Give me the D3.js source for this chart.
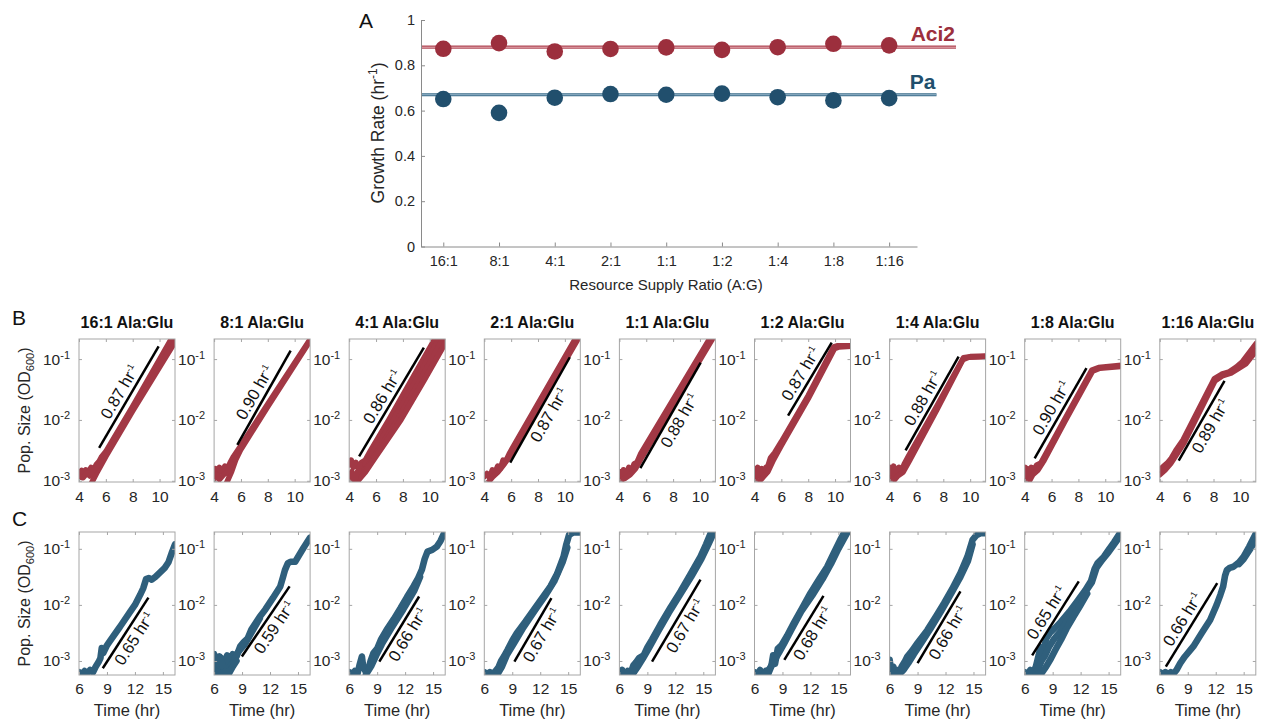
<!DOCTYPE html>
<html>
<head>
<meta charset="utf-8">
<script src="https://cdn.jsdelivr.net/npm/d3@7"></script>
<style>
  body { margin: 0; background: #fff; }
  svg { font-family: "Liberation Sans", Arial, sans-serif; }
</style>
</head>
<body>
<div id="wrap"></div>
<script>
// ---- data ----
const ratios = ["16:1", "8:1", "4:1", "2:1", "1:1", "1:2", "1:4", "1:8", "1:16"]
const aci2Rates = [0.873, 0.898, 0.861, 0.872, 0.879, 0.868, 0.880, 0.895, 0.888]
const paRates = [0.651, 0.590, 0.657, 0.673, 0.670, 0.675, 0.659, 0.645, 0.655]
const aci2Mean = 0.88
const paMean = 0.67
const aci2LineEnd = 10.2
const paLineEnd = 9.85
const yTicksA = [0, 0.2, 0.4, 0.6, 0.8, 1]

const xTicksB = [4, 6, 8, 10]
const xTicksC = [6, 9, 12, 15]
const yTicksLog = [1e-3, 1e-2, 1e-1]

// growth curves, [time (hr), log10 OD600], a few replicate strands per panel
const aci2Curves = [
  [
    [[4.0,-2.88],[4.2,-2.83],[4.35,-2.9],[4.5,-2.82],[4.7,-2.85],[4.9,-2.78],[5.1,-2.82],[5.3,-2.73],[5.5,-2.68],[5.7,-2.6],[6.0,-2.52],[8.0,-1.78],[10.9,-0.66]],
    [[4.9,-3.05],[5.3,-2.88],[6.0,-2.6],[8.0,-1.85],[11.2,-0.7]],
    [[4.0,-2.93],[4.3,-2.95],[4.6,-2.87],[4.8,-2.92],[5.0,-2.84],[5.3,-2.78],[5.6,-2.7]]
  ],
  [
    [[3.95,-2.88],[4.1,-2.8],[4.25,-2.92],[4.4,-2.78],[4.6,-2.86],[4.8,-2.76],[5.0,-2.8],[5.2,-2.7],[5.45,-2.6],[6.0,-2.42],[8.0,-1.74],[11.2,-0.66]],
    [[4.9,-3.05],[5.3,-2.85],[5.6,-2.66],[6.0,-2.48],[8.0,-1.78],[11.2,-0.68]],
    [[4.0,-2.97],[4.2,-2.9],[4.4,-2.98],[4.7,-2.9],[5.0,-2.86],[5.3,-2.72]]
  ],
  [
    [[4.0,-2.74],[4.15,-2.66],[4.3,-2.78],[4.5,-2.7],[4.7,-2.8],[4.9,-2.7],[5.2,-2.66],[5.6,-2.5],[6.95,-2.0],[8.8,-1.28],[10.4,-0.66]],
    [[4.3,-3.0],[4.6,-2.86],[4.9,-2.8],[5.2,-2.72],[5.7,-2.55],[7.3,-2.0],[9.1,-1.3],[10.7,-0.66]],
    [[4.4,-3.02],[4.7,-2.92],[5.0,-2.88],[5.5,-2.72],[6.1,-2.52],[7.6,-2.0],[9.35,-1.32],[11.0,-0.66]],
    [[4.5,-3.05],[4.8,-2.96],[5.2,-2.86],[5.8,-2.66],[7.85,-2.0],[9.6,-1.34],[11.2,-0.72]],
    [[4.0,-2.95],[4.2,-2.85],[4.4,-2.98],[4.6,-2.88],[4.8,-2.74]]
  ],
  [
    [[4.0,-2.93],[4.2,-2.88],[4.4,-2.95],[4.6,-2.82],[4.8,-2.86],[5.0,-2.76],[5.2,-2.8],[5.4,-2.66],[5.6,-2.68],[5.9,-2.54],[10.8,-0.66]],
    [[4.2,-3.05],[4.6,-2.94],[5.0,-2.86],[5.5,-2.72],[6.0,-2.56],[10.95,-0.68]]
  ],
  [
    [[4.0,-2.85],[4.15,-2.95],[4.3,-2.82],[4.5,-2.9],[4.7,-2.78],[4.9,-2.84],[5.1,-2.72],[5.3,-2.7],[5.6,-2.55],[10.74,-0.66]],
    [[4.0,-3.0],[4.4,-2.96],[4.8,-2.9],[5.2,-2.8],[5.7,-2.6],[10.9,-0.68]]
  ],
  [
    [[4.0,-2.8],[4.1,-2.95],[4.25,-2.78],[4.4,-2.92],[4.55,-2.8],[4.7,-2.9],[4.85,-2.78],[5.0,-2.76],[5.2,-2.62],[5.5,-2.54],[6.0,-2.36],[8.0,-1.6],[9.9,-0.8],[10.2,-0.78],[11.2,-0.78]],
    [[4.0,-3.0],[4.3,-3.02],[4.6,-2.95],[5.0,-2.85],[5.4,-2.66],[6.0,-2.42],[8.0,-1.65],[9.95,-0.83],[10.3,-0.8],[11.2,-0.79]]
  ],
  [
    [[4.0,-2.78],[4.15,-2.92],[4.3,-2.76],[4.5,-2.88],[4.7,-2.78],[4.9,-2.84],[5.1,-2.72],[5.4,-2.6],[7.5,-1.78],[9.5,-0.98],[10.0,-0.96],[11.2,-0.95]],
    [[4.0,-2.95],[4.3,-3.0],[4.6,-2.92],[5.0,-2.86],[5.5,-2.66],[7.5,-1.84],[9.45,-1.01],[9.9,-0.97],[11.2,-0.96]]
  ],
  [
    [[4.0,-2.78],[4.1,-2.95],[4.2,-2.8],[4.35,-2.98],[4.5,-2.78],[4.7,-2.82],[4.9,-2.74],[5.2,-2.71],[7.0,-1.98],[9.0,-1.18],[9.5,-1.14],[11.2,-1.1]],
    [[4.0,-3.0],[4.3,-3.02],[4.6,-2.9],[5.0,-2.82],[5.4,-2.68],[7.0,-2.02],[9.05,-1.2],[9.6,-1.15],[11.2,-1.12]]
  ],
  [
    [[4.0,-2.82],[4.3,-2.76],[4.6,-2.7],[4.86,-2.63],[5.2,-2.5],[5.73,-2.33],[8.07,-1.32],[8.6,-1.25],[9.18,-1.21],[9.7,-1.13],[10.17,-1.04],[11.2,-0.74]],
    [[4.0,-2.9],[4.4,-2.82],[4.8,-2.72],[5.3,-2.55],[5.8,-2.38],[8.1,-1.36],[8.7,-1.27],[9.3,-1.23],[9.9,-1.15],[10.4,-1.08],[11.2,-0.86]]
  ]
]

const paCurves = [
  [
    [[6.0,-3.2],[6.3,-3.24],[6.6,-3.18],[6.9,-3.22],[7.2,-3.16],[7.5,-3.2],[7.8,-3.1],[8.1,-3.02],[8.3,-2.95],[8.44,-2.77],[8.6,-2.86],[9.0,-2.72],[9.33,-2.64],[10.4,-2.39],[11.5,-2.12],[12.0,-2.0],[12.56,-1.82],[12.9,-1.7],[13.2,-1.54],[13.5,-1.52],[13.8,-1.55],[14.2,-1.5],[14.7,-1.42],[15.2,-1.34],[15.6,-1.24],[16.0,-1.05],[16.3,-0.92]]
  ],
  [
    [[6.0,-3.22],[6.3,-3.0],[6.5,-3.15],[6.8,-2.95],[7.1,-3.1],[7.4,-2.9],[7.7,-3.0],[8.0,-2.88],[8.4,-2.92],[8.8,-2.74],[9.2,-2.66],[9.6,-2.6],[10.0,-2.44],[10.9,-2.21],[11.5,-2.08],[12.3,-1.88],[13.1,-1.67],[13.4,-1.5],[13.6,-1.38],[13.9,-1.26],[14.2,-1.23],[14.7,-1.23],[15.1,-1.12],[15.6,-0.98],[16.3,-0.8]],
    [[6.0,-2.88],[6.3,-3.05],[6.6,-2.92],[7.0,-3.12],[7.3,-3.2],[7.7,-3.1],[8.1,-3.02],[8.5,-2.86],[8.8,-2.8],[9.3,-2.7],[10.0,-2.5],[10.9,-2.24]],
    [[6.0,-3.24],[6.4,-3.2],[6.8,-3.24],[7.2,-3.18],[7.6,-3.22],[8.0,-3.1],[8.4,-3.0]]
  ],
  [
    [[6.0,-3.2],[6.3,-3.24],[6.6,-3.18],[6.9,-3.22],[7.1,-3.08],[7.36,-2.92],[7.5,-3.1],[7.8,-3.2],[8.1,-3.12],[8.3,-3.0],[8.6,-2.86],[9.0,-2.78],[9.4,-2.62],[10.0,-2.45],[10.8,-2.25],[11.5,-2.06],[12.2,-1.86],[12.9,-1.67],[13.4,-1.52],[13.8,-1.37],[14.1,-1.18],[14.4,-1.05],[14.9,-1.02],[15.4,-0.96],[15.8,-0.86],[16.1,-0.75],[16.3,-0.7]],
    [[7.8,-3.24],[8.4,-3.08],[8.9,-2.9],[9.5,-2.7],[10.5,-2.42],[11.8,-2.08],[13.0,-1.74],[13.6,-1.5]]
  ],
  [
    [[6.0,-3.2],[6.3,-3.24],[6.6,-3.2],[6.9,-3.24],[7.2,-3.18],[7.5,-3.12],[7.8,-3.0],[8.1,-2.92],[8.5,-2.8],[9.0,-2.64],[9.5,-2.5],[10.4,-2.3],[11.3,-2.09],[12.2,-1.88],[13.1,-1.67],[13.8,-1.45],[14.5,-1.14],[14.8,-0.92],[15.1,-0.75],[15.5,-0.71],[16.3,-0.71]],
    [[7.4,-3.24],[7.9,-3.1],[8.4,-2.9],[9.2,-2.68],[10.2,-2.4],[11.5,-2.08],[12.6,-1.82],[13.5,-1.58],[14.4,-1.24],[14.9,-0.98]]
  ],
  [
    [[6.0,-3.22],[6.3,-3.16],[6.6,-3.24],[6.9,-3.18],[7.2,-3.22],[7.5,-3.08],[7.8,-3.02],[8.1,-2.95],[8.6,-2.9],[9.0,-2.76],[9.5,-2.62],[10.4,-2.35],[11.5,-2.04],[12.56,-1.76],[13.6,-1.46],[14.7,-1.14],[15.3,-0.92],[15.8,-0.72],[16.3,-0.66]],
    [[7.4,-3.24],[7.9,-3.12],[8.5,-2.96],[9.2,-2.76],[10.2,-2.46],[11.3,-2.14],[12.5,-1.82],[13.7,-1.5],[14.8,-1.18],[15.6,-0.9],[16.1,-0.72]]
  ],
  [
    [[6.0,-3.2],[6.3,-3.24],[6.6,-3.16],[6.9,-3.24],[7.2,-3.18],[7.5,-3.22],[7.8,-3.1],[8.0,-2.9],[8.2,-3.05],[8.5,-2.78],[8.9,-2.72],[9.5,-2.55],[10.2,-2.33],[11.1,-2.06],[12.0,-1.79],[12.9,-1.55],[13.8,-1.32],[14.5,-1.08],[15.2,-0.84],[15.6,-0.72],[16.0,-0.66]],
    [[7.0,-3.24],[7.6,-3.14],[8.1,-3.0],[8.6,-2.86],[9.2,-2.68],[10.0,-2.43],[11.0,-2.12],[12.2,-1.83],[13.3,-1.54],[14.2,-1.27],[15.0,-1.0],[15.6,-0.82],[16.0,-0.7]]
  ],
  [
    [[6.0,-2.98],[6.2,-3.2],[6.4,-3.1],[6.6,-3.24],[6.8,-3.16],[7.0,-3.22],[7.3,-3.1],[7.6,-3.02],[7.9,-2.92],[8.4,-2.82],[9.0,-2.68],[10.05,-2.45],[11.0,-2.2],[11.84,-1.97],[12.7,-1.72],[13.6,-1.43],[14.35,-1.14],[14.9,-0.84],[15.3,-0.76],[15.8,-0.72],[16.3,-0.72]],
    [[6.0,-3.24],[6.5,-3.2],[7.0,-3.24],[7.5,-3.16],[8.0,-3.04],[8.6,-2.88],[9.4,-2.68],[10.4,-2.42],[11.5,-2.12],[12.6,-1.8],[13.6,-1.5],[14.4,-1.22],[14.9,-0.92]]
  ],
  [
    [[6.0,-3.2],[6.3,-3.24],[6.6,-3.16],[6.9,-3.22],[7.2,-3.1],[7.5,-2.9],[7.7,-2.75],[8.0,-2.85],[8.3,-2.6],[8.7,-2.5],[9.2,-2.42],[9.9,-2.3],[10.8,-2.12],[11.7,-1.92],[12.5,-1.74],[13.1,-1.58],[13.5,-1.36],[13.8,-1.26],[14.5,-1.14],[15.0,-1.02],[15.6,-0.88],[16.3,-0.7]],
    [[6.0,-3.24],[6.5,-3.22],[7.0,-3.24],[7.4,-3.16],[7.8,-3.0],[8.2,-2.9],[8.6,-2.75],[9.1,-2.62],[9.9,-2.46],[10.8,-2.22],[11.7,-1.96],[12.5,-1.77],[13.2,-1.6],[13.7,-1.34],[14.3,-1.2],[15.0,-1.06],[15.6,-0.92],[16.3,-0.76]],
    [[7.2,-3.24],[7.8,-3.22],[8.3,-3.1],[8.8,-2.96],[9.3,-2.8],[9.9,-2.62],[10.5,-2.42],[11.2,-2.22],[11.9,-2.03],[12.7,-1.8]]
  ],
  [
    [[6.0,-3.2],[6.3,-3.24],[6.6,-3.2],[6.9,-3.24],[7.2,-3.2],[7.5,-3.22],[7.8,-3.16],[8.2,-3.04],[8.7,-2.92],[9.2,-2.82],[9.6,-2.74],[10.5,-2.5],[11.4,-2.27],[12.1,-2.0],[12.5,-1.82],[12.8,-1.67],[13.0,-1.48],[13.2,-1.38],[13.5,-1.34],[13.9,-1.32],[14.5,-1.24],[15.0,-1.14],[15.6,-0.96],[16.3,-0.73]],
    [[14.5,-1.27],[15.0,-1.18],[15.6,-1.03],[16.3,-0.84]]
  ]
]

// fitted exponential growth segments [t1, log10 OD1, t2, log10 OD2] and their rates
const aci2Fits = [[5.5,-2.46,9.93,-0.79],[5.73,-2.41,9.7,-0.86],[4.74,-2.6,9.56,-0.81],[5.93,-2.7,10.37,-0.97],[5.56,-2.79,10.05,-1.06],[6.5,-1.93,9.75,-0.73],[5.19,-2.5,9.14,-0.96],[4.74,-2.63,8.6,-1.15],[5.41,-2.67,8.82,-1.36]]
const aci2FitRates = ["0.87", "0.90", "0.86", "0.87", "0.88", "0.87", "0.88", "0.90", "0.89"]
const paFits = [[8.55,-3.13,13.45,-1.87],[8.98,-2.92,14.1,-1.67],[9.23,-3.01,13.5,-1.85],[9.23,-3.01,13.2,-1.88],[9.5,-3.01,14.7,-1.55],[9.2,-2.98,13.4,-1.84],[9.0,-3.04,13.6,-1.76],[6.8,-2.9,11.8,-1.58],[6.65,-3.1,12.16,-1.61]]
const paFitRates = ["0.65", "0.59", "0.66", "0.67", "0.67", "0.68", "0.66", "0.65", "0.66"]

// which side of the fit line the rate label sits on
const aci2LabelSide = ["above", "above", "above", "below", "below", "above", "above", "above", "below"]
const paLabelSide = ["below", "below", "below", "below", "below", "below", "below", "above", "above"]

// ---- styling ----
const red = "#9c2f3d"
const redCurve = "#a23845"
const blue = "#214f6d"
const blueCurve = "#2f5f7c"
const boxColor = "#a6a6a6"
const textColor = "#262626"

const width = 1265
const height = 721

const svg = d3.select("#wrap")
  .append("svg")
    .attr("width", width)
    .attr("height", height)

// ================= Panel A =================
const aX = d3.scaleLinear()
  .domain([0.6, 9.5])
  .range([421, 917])

const aY = d3.scaleLinear()
  .domain([0, 1])
  .range([246.5, 20])

const panelA = svg.append("g")

// mean lines (dark edge + pale core)
const meanLines = [
  {v: aci2Mean, end: aci2LineEnd, dark: "#b04a57", light: "#e3a7ae", name: "Aci2", c: red},
  {v: paMean, end: paLineEnd, dark: "#3a6c8a", light: "#9bb9cc", name: "Pa", c: blue},
]
meanLines.forEach(m => {
  panelA.append("line")
      .attr("x1", aX(0.6)).attr("x2", aX(m.end))
      .attr("y1", aY(m.v)).attr("y2", aY(m.v))
      .attr("stroke", m.dark)
      .attr("stroke-width", 3.2)
  panelA.append("line")
      .attr("x1", aX(0.6)).attr("x2", aX(m.end))
      .attr("y1", aY(m.v)).attr("y2", aY(m.v))
      .attr("stroke", m.light)
      .attr("stroke-width", 1.1)
  panelA.append("text")
      .attr("x", aX(m.end) - 1)
      .attr("y", aY(m.v) - 6)
      .attr("text-anchor", "end")
      .attr("font-weight", "bold")
      .attr("font-size", 21)
      .attr("fill", m.c)
      .text(m.name)
})

panelA.selectAll("circle.aci2")
  .data(aci2Rates)
  .enter().append("circle")
    .attr("class", "aci2")
    .attr("cx", (d, i) => aX(i + 1))
    .attr("cy", d => aY(d))
    .attr("r", 8.3)
    .attr("fill", red)

panelA.selectAll("circle.pa")
  .data(paRates)
  .enter().append("circle")
    .attr("class", "pa")
    .attr("cx", (d, i) => aX(i + 1))
    .attr("cy", d => aY(d))
    .attr("r", 8.3)
    .attr("fill", blue)

const aXAxis = panelA.append("g")
    .attr("transform", `translate(0, ${aY(0)})`)
    .call(d3.axisBottom(aX)
      .tickValues(d3.range(1, 10))
      .tickFormat(i => ratios[i - 1])
      .tickSize(-4)
      .tickSizeOuter(0)
      .tickPadding(9))
const aYAxis = panelA.append("g")
    .attr("transform", `translate(${aX(0.6)}, 0)`)
    .call(d3.axisLeft(aY)
      .tickValues(yTicksA)
      .tickFormat(d3.format("~g"))
      .tickSize(-4)
      .tickSizeOuter(0)
      .tickPadding(6))
;[aXAxis, aYAxis].forEach(ax => {
  ax.attr("color", "#8a8a8a")
  ax.selectAll("text")
      .attr("fill", textColor)
      .attr("font-size", 14.5)
})

panelA.append("text")
    .attr("x", 666)
    .attr("y", 290)
    .attr("text-anchor", "middle")
    .attr("font-size", 15)
    .attr("fill", textColor)
    .text("Resource Supply Ratio (A:G)")

const aYLabel = panelA.append("text")
    .attr("transform", "translate(384, 133) rotate(-90)")
    .attr("text-anchor", "middle")
    .attr("font-size", 17.5)
    .attr("fill", textColor)
aYLabel.append("tspan").text("Growth Rate (hr")
aYLabel.append("tspan").attr("dy", -7).attr("font-size", 12).text("-1")
aYLabel.append("tspan").attr("dy", 7).text(")")

// panel letters
const letters = [
  {t: "A", x: 359, y: 28},
  {t: "B", x: 12, y: 325},
  {t: "C", x: 12, y: 526},
]
letters.forEach(l => {
  svg.append("text")
      .attr("x", l.x).attr("y", l.y)
      .attr("font-size", 21)
      .attr("fill", "#111")
      .text(l.t)
})

// ================= Panels B and C =================
const smallW = 96
const step = 135.1
const firstLeft = 79

const rows = [
  {
    curves: aci2Curves, fits: aci2Fits, rates: aci2FitRates, sides: aci2LabelSide,
    color: redCurve, width: 5.6, top: 339, bottom: 482, pad: 9,
    xDomain: [4, 11.15], yDomain: [Math.pow(10, -3.02), Math.pow(10, -0.67)],
    xTicks: xTicksB, titles: true, timeLabel: false, key: "b",
  },
  {
    curves: paCurves, fits: paFits, rates: paFitRates, sides: paLabelSide,
    color: blueCurve, width: 6.6, top: 532, bottom: 675, pad: 8,
    xDomain: [6, 16.3], yDomain: [Math.pow(10, -3.25), Math.pow(10, -0.70)],
    xTicks: xTicksC, titles: false, timeLabel: true, key: "c",
  },
]

const styleTicks = g => {
  g.attr("color", boxColor)
  g.select(".domain").remove()
  g.selectAll("text")
      .attr("fill", textColor)
      .attr("font-size", 15.5)
}

rows.forEach(row => {
  ratios.forEach((ratio, i) => {
    const left = firstLeft + i * step
    const x = d3.scaleLinear()
      .domain(row.xDomain)
      .range([left, left + smallW])
    const y = d3.scaleLog()
      .domain(row.yDomain)
      .range([row.bottom, row.top])

    const g = svg.append("g")
    const clipId = `clip-${row.key}-${i}`
    g.append("clipPath")
        .attr("id", clipId)
      .append("rect")
        .attr("x", left)
        .attr("y", row.top)
        .attr("width", smallW)
        .attr("height", row.bottom - row.top)

    // growth curves
    const line = d3.line()
      .x(d => x(d[0]))
      .y(d => y(Math.pow(10, d[1])))

    g.append("g")
        .attr("clip-path", `url(#${clipId})`)
      .selectAll("path")
      .data(row.curves[i])
      .enter().append("path")
        .attr("d", line)
        .attr("fill", "none")
        .attr("stroke", row.color)
        .attr("stroke-width", row.width)
        .attr("stroke-linejoin", "round")
        .attr("stroke-linecap", "round")

    // fitted line
    const f = row.fits[i]
    const x1 = x(f[0]), y1 = y(Math.pow(10, f[1]))
    const x2 = x(f[2]), y2 = y(Math.pow(10, f[3]))
    g.append("line")
        .attr("x1", x1).attr("y1", y1)
        .attr("x2", x2).attr("y2", y2)
        .attr("stroke", "#000")
        .attr("stroke-width", 2.5)

    const angle = Math.atan2(y2 - y1, x2 - x1) * 180 / Math.PI
    const label = g.append("text")
        .attr("transform", `translate(${(x1 + x2) / 2}, ${(y1 + y2) / 2}) rotate(${angle})`)
        .attr("y", row.sides[i] === "above" ? -5 : 16)
        .attr("text-anchor", "middle")
        .attr("font-size", 16.5)
        .attr("fill", "#111")
    label.append("tspan").text(row.rates[i] + " hr")
    label.append("tspan").attr("dy", -6).attr("font-size", 9).text("-1")

    // axes: ticks inward on all four sides
    g.append("g")
        .attr("transform", `translate(0, ${row.bottom})`)
        .call(d3.axisBottom(x).tickValues(row.xTicks).tickSize(-3).tickPadding(row.pad))
        .call(styleTicks)
    g.append("g")
        .attr("transform", `translate(0, ${row.top})`)
        .call(d3.axisTop(x).tickValues(row.xTicks).tickSize(-3).tickFormat(""))
        .call(styleTicks)
    const yAxis = g.append("g")
        .attr("transform", `translate(${left}, 0)`)
        .call(d3.axisLeft(y).tickValues(yTicksLog).tickSize(-3).tickPadding(9))
        .call(styleTicks)
    g.append("g")
        .attr("transform", `translate(${left + smallW}, 0)`)
        .call(d3.axisRight(y).tickValues(yTicksLog).tickSize(-3).tickFormat(""))
        .call(styleTicks)

    yAxis.selectAll(".tick text").each(function(d) {
      const t = d3.select(this)
      t.text("10")
      t.append("tspan")
          .attr("dy", "-0.55em")
          .attr("font-size", 11)
          .text(Math.round(Math.log10(d)))
    })

    g.append("rect")
        .attr("x", left)
        .attr("y", row.top)
        .attr("width", smallW)
        .attr("height", row.bottom - row.top)
        .attr("fill", "none")
        .attr("stroke", boxColor)
        .attr("stroke-width", 1)

    if (row.titles) {
      g.append("text")
          .attr("x", left + smallW / 2)
          .attr("y", row.top - 11)
          .attr("text-anchor", "middle")
          .attr("font-weight", "bold")
          .attr("font-size", 16)
          .attr("fill", "#111")
          .text(`${ratio} Ala:Glu`)
    }
    if (row.timeLabel) {
      g.append("text")
          .attr("x", left + smallW / 2)
          .attr("y", row.bottom + 41)
          .attr("text-anchor", "middle")
          .attr("font-size", 16.5)
          .attr("fill", textColor)
          .text("Time (hr)")
    }
  })

  // row y label
  const mid = (row.top + row.bottom) / 2
  const yl = svg.append("text")
      .attr("transform", `translate(30, ${mid}) rotate(-90)`)
      .attr("text-anchor", "middle")
      .attr("font-size", 16)
      .attr("fill", textColor)
  yl.append("tspan").text("Pop. Size (OD")
  yl.append("tspan").attr("dy", 4).attr("font-size", 11).text("600")
  yl.append("tspan").attr("dy", -4).text(")")
})
</script>
</body>
</html>
